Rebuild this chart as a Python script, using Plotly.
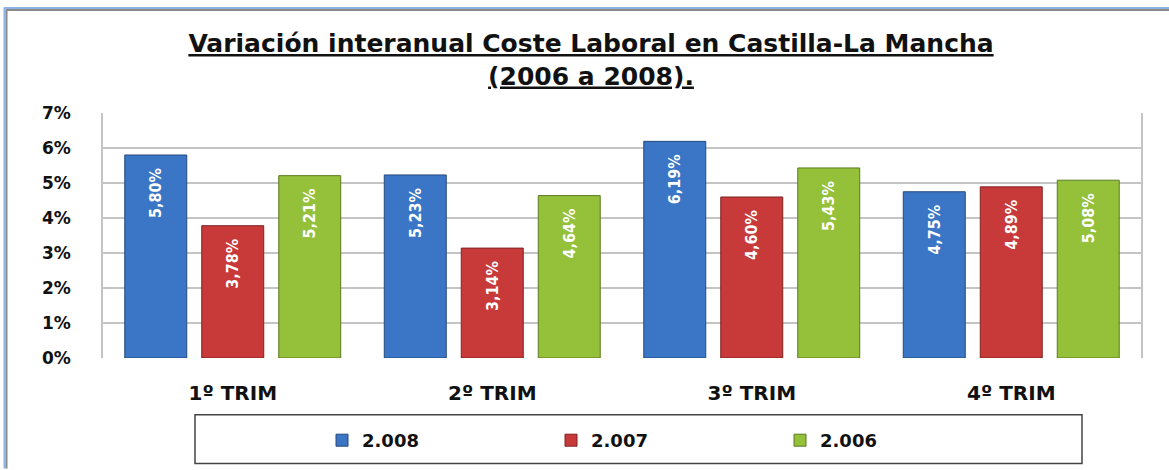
import plotly.graph_objects as go

categories = ["1º TRIM", "2º TRIM", "3º TRIM", "4º TRIM"]
series_names = ["2.008", "2.007", "2.006"]
v2008 = [5.80, 5.23, 6.19, 4.75]
v2007 = [3.78, 3.14, 4.60, 4.89]
v2006 = [5.21, 4.64, 5.43, 5.08]
y_ticks = [0, 1, 2, 3, 4, 5, 6, 7]
y_tick_labels = ["0%", "1%", "2%", "3%", "4%", "5%", "6%", "7%"]

colors = ["#3b76c6", "#c8393a", "#94c03a"]
edge = ["#24497c", "#7e2223", "#5c7a22"]

W, H = 1169, 470
L, R, T, B = 103, 1141, 113, 359

def px(x):
    return (x - L) / (R - L)

def py(y):
    return (B - y) / (B - T)

fig = go.Figure()
for name, vals, c, e in zip(series_names, [v2008, v2007, v2006], colors, edge):
    fig.add_trace(go.Bar(
        x=categories, y=[v / 100 for v in vals], name=name,
        marker=dict(color=c, line=dict(color=e, width=1)),
        text=[f"{v:.2f}".replace(".", ",") + "%\u00a0\u00a0" for v in vals],
        textposition="inside", insidetextanchor="end", textangle=-90,
        textfont=dict(family="DejaVu Sans Condensed", size=16, color="white", weight="bold"),
        cliponaxis=False,
    ))

shapes = [
    # legend box
    dict(type="rect", xref="paper", yref="paper", x0=px(195), x1=px(1082), y0=py(465), y1=py(416),
         line=dict(color="#444444", width=1.5), fillcolor="rgba(0,0,0,0)"),
    # outer border top/left
    dict(type="line", xref="paper", yref="paper", x0=px(4), x1=px(1169), y0=py(7.5), y1=py(7.5),
         line=dict(color="#8db3e2", width=2)),
    dict(type="line", xref="paper", yref="paper", x0=px(6), x1=px(1169), y0=py(9.5), y1=py(9.5),
         line=dict(color="#8a8a8a", width=2)),
    dict(type="line", xref="paper", yref="paper", x0=px(4.5), x1=px(4.5), y0=py(7), y1=py(470),
         line=dict(color="#8db3e2", width=2)),
    dict(type="line", xref="paper", yref="paper", x0=px(6.5), x1=px(6.5), y0=py(9), y1=py(470),
         line=dict(color="#8a8a8a", width=2)),
]

fig.update_layout(
    width=W, height=H,
    margin=dict(l=L, r=W - R, t=T, b=H - B),
    paper_bgcolor="white", plot_bgcolor="white",
    barmode="group", bargap=0.11, bargroupgap=0.195,
    title=dict(
        text="<u>Variación interanual Coste Laboral en Castilla-La Mancha</u><br><u>(2006 a 2008).</u>",
        x=591 / W, xanchor="center", xref="container",
        y=1 - 52 / H, yanchor="top", yref="container",
        font=dict(family="DejaVu Sans", size=25, color="#111111", weight="bold"),
    ),
    xaxis=dict(
        showgrid=False, showline=False, ticks="",
        tickfont=dict(family="DejaVu Sans", size=20, color="#111111", weight="bold"),
        ticklabelstandoff=21,
    ),
    yaxis=dict(
        range=[0, 0.07], tickvals=[t / 100 for t in y_ticks], ticktext=y_tick_labels,
        showgrid=True, gridcolor="#c4c4c4", gridwidth=1.5,
        showline=True, linecolor="#c4c4c4", linewidth=1.5, mirror=True,
        zeroline=False, ticks="",
        tickfont=dict(family="DejaVu Sans", size=17, color="#111111", weight="bold"),
        ticklabelstandoff=27,
    ),
    legend=dict(
        orientation="h", x=px(322), xanchor="left", y=py(440.5), yanchor="middle",
        entrywidth=184, entrywidthmode="pixels", itemwidth=30,
        font=dict(family="DejaVu Sans", size=18, color="#111111", weight="bold"),
        bgcolor="rgba(0,0,0,0)", borderwidth=0,
    ),
    shapes=shapes,
    showlegend=True,
)

fig.write_html("out.html", config={"displayModeBar": False},
               post_script="document.body.style.margin='0';document.body.style.overflow='hidden';")
